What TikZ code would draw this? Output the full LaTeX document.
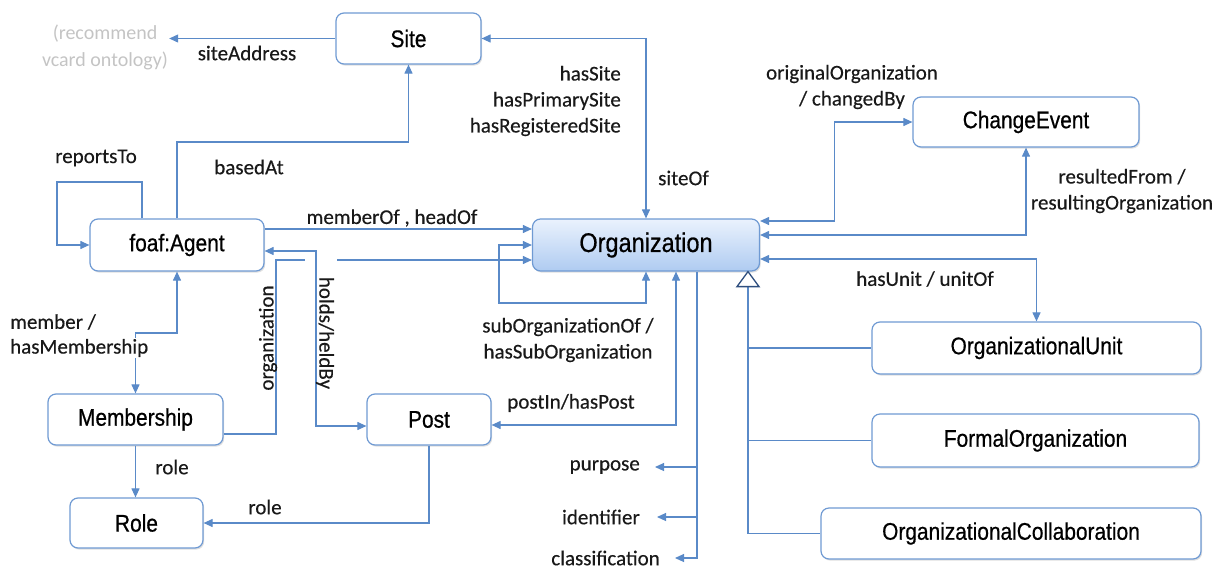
\documentclass[tikz,border=0pt]{standalone}
\usepackage{fontspec}
\usetikzlibrary{arrows.meta,shadows,calc}
\newfontfamily\boxfont[FakeStretch=0.87,FakeBold=0.6]{Liberation Sans}
\newfontfamily\lblfont[FakeBold=0.35]{Carlito}
\newfontfamily\hintfont{Carlito}
\definecolor{edgeblue}{HTML}{5A8AC8}
\definecolor{frameblue}{HTML}{6F9AD3}
\definecolor{orgtop}{HTML}{EAF2FD}
\definecolor{orgbot}{HTML}{AFCBF1}
\definecolor{navy}{HTML}{2F4F7F}
\definecolor{hint}{HTML}{C4C4C4}
\tikzset{
  cls/.style={draw=frameblue, line width=1.2pt, rounded corners=8pt, fill=white,
    font=\boxfont\fontsize{24}{28}\selectfont, inner sep=0pt,
    drop shadow={opacity=0.25, shadow xshift=1.2pt, shadow yshift=-1.6pt}},
  orgcls/.style={cls, top color=orgtop, bottom color=orgbot,
    font=\boxfont\fontsize{27}{30}\selectfont},
  lbl/.style={font=\lblfont\fontsize{21}{26}\selectfont, text=black!90, inner sep=1pt},
  link/.style={draw=edgeblue, line width=1.1pt},
  arr/.style={link, -{Triangle[length=9pt,width=8pt]}},
  arrs/.style={link, {Triangle[length=9pt,width=8pt]}-{Triangle[length=9pt,width=8pt]}},
  gentri/.style={draw=navy, line width=1.3pt, fill=white, line join=miter},
}
\begin{document}
\begin{tikzpicture}[x=1pt,y=-1pt]
\useasboundingbox (0,0) rectangle (1229,568);

% classes
\node[cls, minimum width=145pt, minimum height=51pt] (site) at (408.5,38.5) {Site};
\node[cls, minimum width=226pt, minimum height=50pt] (change) at (1026,122) {ChangeEvent};
\node[cls, minimum width=174pt, minimum height=52pt] (agent) at (177,245) {foaf:Agent};
\node[orgcls, minimum width=227pt, minimum height=52pt] (org) at (646,245) {Organization};
\node[cls, minimum width=329pt, minimum height=52pt] (unit) at (1036.5,348) {OrganizationalUnit};
\node[cls, minimum width=327pt, minimum height=53pt] (formal) at (1035.5,440.5) {FormalOrganization};
\node[cls, minimum width=380pt, minimum height=51pt] (collab) at (1011,533.5) {OrganizationalCollaboration};
\node[cls, minimum width=175pt, minimum height=51pt] (membership) at (135.5,419.5) {Membership};
\node[cls, minimum width=133pt, minimum height=50pt] (role) at (136.5,523) {Role};
\node[cls, minimum width=124pt, minimum height=51pt] (post) at (429,419.5) {Post};

% external vocabulary hint
\node[font=\hintfont\fontsize{20}{27}\selectfont, text=hint, align=center, inner sep=1pt] (vcard) at (105,47)
  {(recommend\\vcard ontology)};

% labels for the trunk of attribute properties
\node[lbl, anchor=east] (purpose) at (641,467) {purpose};
\node[lbl, anchor=east] (identifier) at (641,517) {identifier};
\node[lbl, anchor=east] (classification) at (661,558) {classification};

% Site links
\draw[arr] (site.west) -- (site.west -| vcard.east);
\draw[arr] (agent.north) -- (agent.north |- 0,142) -| (site.south);
\draw[arrs] (site.east) -| (org.north);

% reportsTo loop
\draw[arr] ([xshift=-35pt]agent.north) |- (57,182) |- (agent.west);

% agent <-> organization
\draw[arr] ([yshift=16pt]agent.east) -- ([yshift=16pt]agent.east -| org.west);
\draw[arrs] ([yshift=-6pt]agent.east) -| (316,426) -- ([yshift=-6.5pt]post.west);
\draw[arrs] (membership.north) |- (177,333) -| (agent.south);

% membership -> organization, hopping over holds/heldBy
\draw[link] ([yshift=-14.5pt]membership.east) -| (276,260) -- (305,260);
\draw[arr] (337,260) -- ([yshift=-15pt]org.west);

% sub-organization loop
\draw[arrs] (org.south) |- (499,303) |- (org.west);

% roles and posts
\draw[arr] (membership.south) -- (membership.south |- role.north);
\draw[arr] (post.south) |- (role.east);
\draw[arrs] ([xshift=30pt]org.south) |- ([yshift=-5.5pt]post.east);

% attribute trunk
\coordinate (trunk) at ([xshift=51pt]org.south);
\draw[arr] (trunk) |- ([xshift=14pt]classification.east);
\draw[arr] (trunk |- purpose) -- ([xshift=14pt]purpose.east);
\draw[arr] (trunk |- identifier) -- ([xshift=16pt]identifier.east);

% change events and units
\draw[arrs] ([yshift=24pt]org.east) -| ([xshift=-78pt]change.west) -- (change.west);
\draw[arrs] (change.south) |- ([yshift=10pt]org.east);
\draw[arrs] ([yshift=-14pt]org.east) -| (unit.north);

% generalisation
\coordinate (gen) at ([xshift=102pt]org.south);
\draw[link] ([yshift=-15pt]gen) -- (gen |- collab.west) -- (collab.west);
\draw[link] (gen |- unit.west) -- (unit.west);
\draw[link] (gen |- formal.west) -- (formal.west);
\draw[gentri] (gen) -- ++(-11,15) -- ++(22,0) -- cycle;

% property labels
\node[lbl] (lsiteaddr) at (247,53) {siteAddress};
\node[lbl] (lbased) at (249,167) {basedAt};
\node[lbl] (lreports) at (96,158) {reportsTo};
\node[lbl, align=right, anchor=east] (lhassite) at (622,101) {hasSite\\hasPrimarySite\\hasRegisteredSite};
\node[lbl, anchor=west] (lsiteof) at (657,178) {siteOf};
\node[lbl, align=center] (lorig) at (852,87) {originalOrganization\\/ changedBy};
\node[lbl, align=center] (lresult) at (1122,191) {resultedFrom /\\resultingOrganization};
\node[lbl] (lmember) at (392,218) {memberOf , headOf};
\node[lbl] (lunit) at (925,279) {hasUnit / unitOf};
\node[lbl, align=center] (lsub) at (568,340) {subOrganizationOf /\\hasSubOrganization};
\node[lbl] (lpost) at (571,403) {postIn/hasPost};
\node[lbl] (lrole1) at (172,467) {role};
\node[lbl] (lrole2) at (265,507) {role};
\node[lbl, rotate=90] (lorgn) at (268,338) {organization};
\node[lbl, rotate=-90] (lholds) at (325,333) {holds/heldBy};
\node[lbl, anchor=west] (lmem1) at (9,322) {member /};
\node[lbl, anchor=west, fill=white] (lmem2) at (9,348) {hasMembership};
\end{tikzpicture}
\end{document}
